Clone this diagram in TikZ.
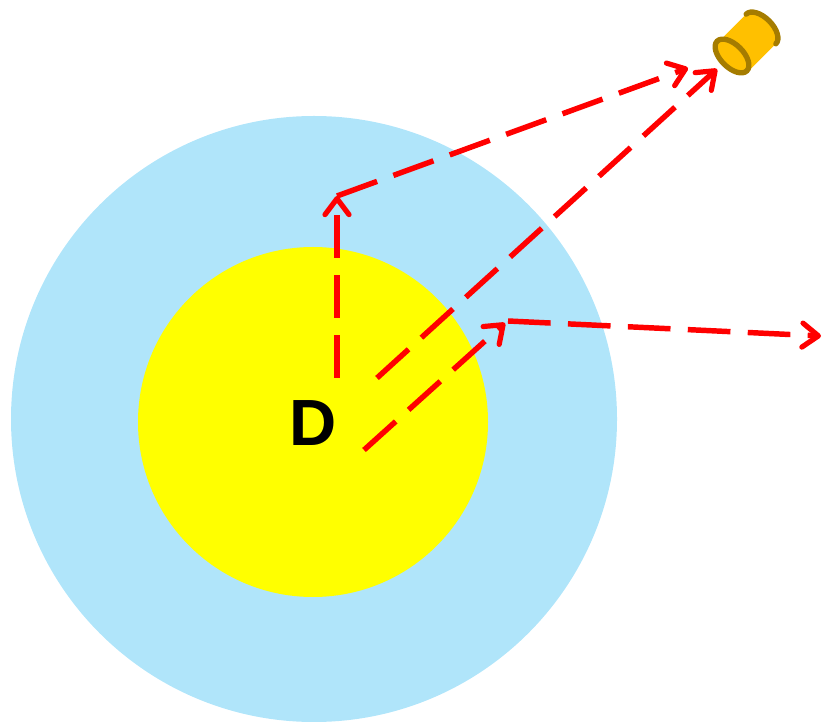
\documentclass[tikz,border=0pt]{standalone}
\usepackage{fontspec}
\setmainfont{Liberation Sans}
\definecolor{halo}{HTML}{B0E5FA}
\definecolor{core}{HTML}{FFFF00}
\definecolor{ray}{HTML}{FF0000}
\definecolor{lens}{HTML}{FFC000}
\definecolor{rim}{HTML}{A57C00}
\usetikzlibrary{arrows.meta,shapes.geometric}
\tikzset{
  zone/.style={circle,inner sep=0pt,draw=none},
  rayline/.style={ray,line width=4.1pt,dash pattern=on 32pt off 13pt},
  rayarr/.style={rayline,-{Straight Barb[length=12pt,width=18pt,line width=3.9pt,round]}},
  rimline/.style={rim,line width=4pt}
}
\begin{document}
\begin{tikzpicture}[x=.75pt,y=.75pt]
  \useasboundingbox (0,0) rectangle (823,721);
  \node[zone,fill=halo,minimum size=454.5pt] (outer) at (314,302) {};
  \node[zone,fill=core,minimum size=262.5pt] (inner) at (313,299) {};
  \node[font=\bfseries,scale=4.9] (dlabel) at (313,298) {D};
  % detector
  \begin{scope}[shift={(761,692)},rotate=-45]
    \fill[lens] (-21,0) arc[start angle=180,end angle=0,x radius=21,y radius=11.5]
      -- (21,-40.5) -- (-21,-40.5) -- cycle;
    \draw[rimline,line cap=round] (-21,0) arc[start angle=180,end angle=0,x radius=21,y radius=11.5];
  \end{scope}
  \node[draw=rim,line width=4pt,fill=lens,ellipse,inner sep=0pt,
        rotate=-45,minimum height=17pt,minimum width=31.5pt] (front) at (732,665) {};
  % ray ends
  \coordinate (a0) at (337,343);
  \coordinate (a1) at (337,525);
  \coordinate (a2) at (688,653);
  \coordinate (b0) at (377,343);
  \coordinate (b1) at (717,652);
  \coordinate (c0) at (364,271);
  \coordinate (c1) at (505,398);
  \coordinate (c2) at (508,400);
  \coordinate (c3) at (821,385);
  \draw[rayarr] (a0) -- (a1);
  \draw[rayarr] (a1) -- (a2);
  \draw[rayarr] (b0) -- (b1);
  \draw[rayarr] (c0) -- (c1);
  \draw[rayarr] (c2) -- (c3);
\end{tikzpicture}
\end{document}
